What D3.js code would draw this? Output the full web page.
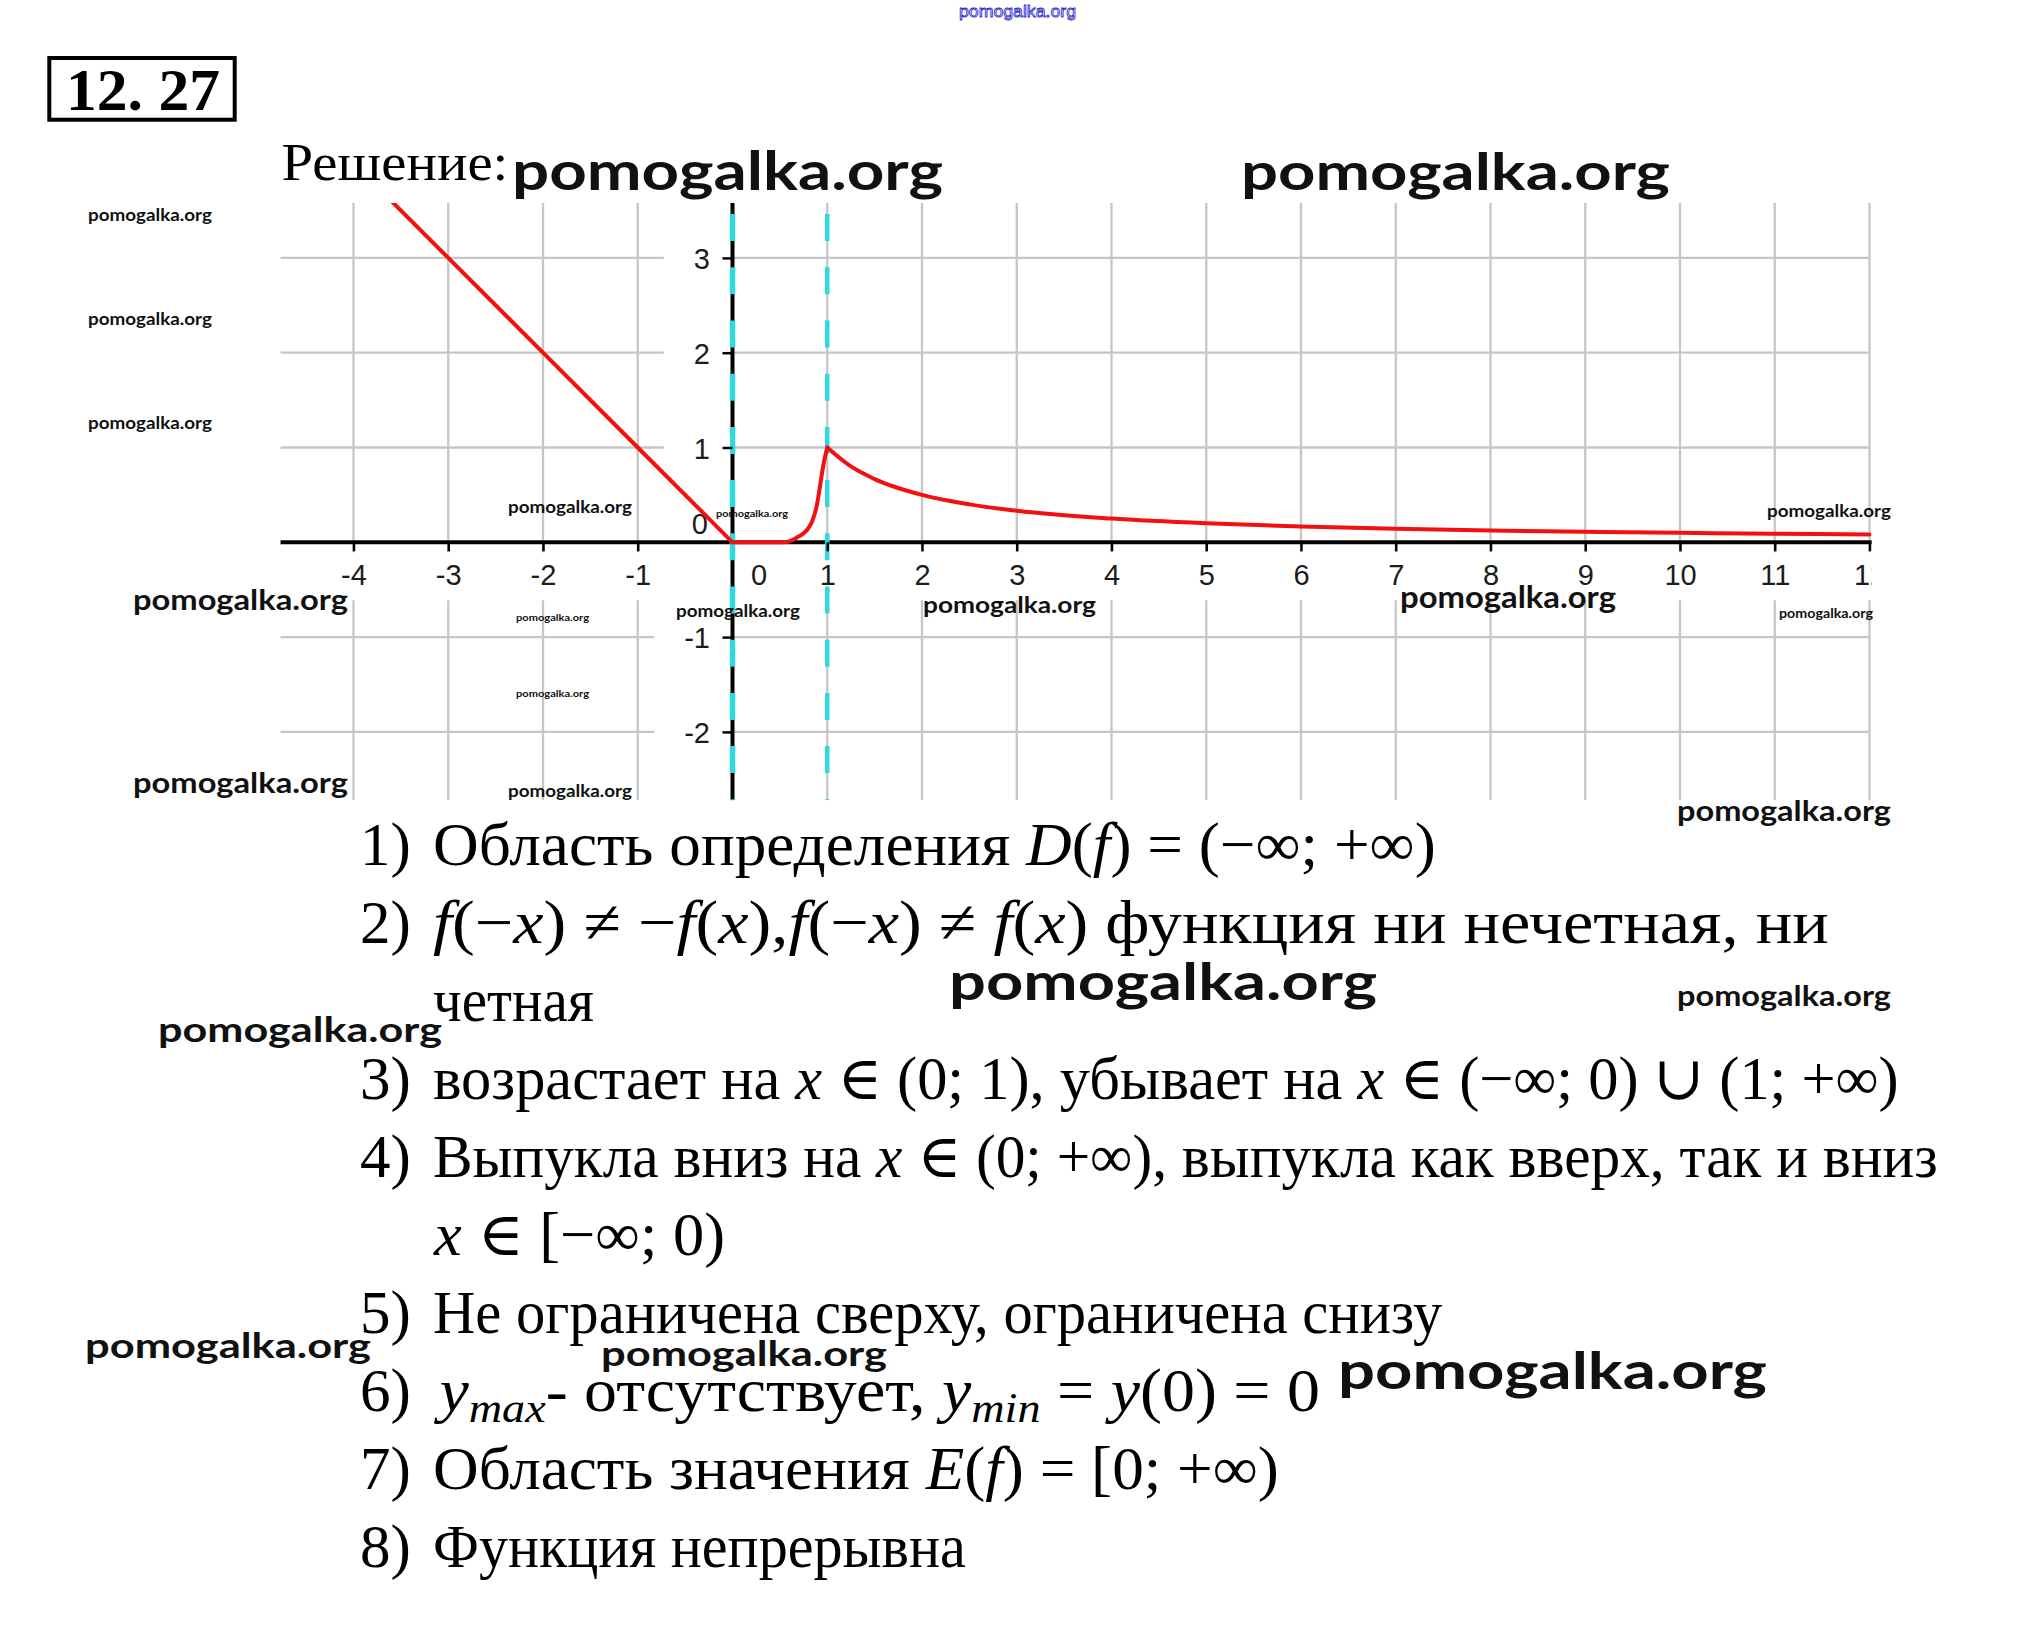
<!DOCTYPE html>
<html><head><meta charset="utf-8">
<script src="https://cdn.jsdelivr.net/npm/d3@7"></script>
<style>html,body{margin:0;padding:0;background:#fff;} svg{display:block;}</style>
</head><body>
<svg id="c" width="2033" height="1642"></svg>
<script>
// ---------- data ----------
const xTickValues = [-4,-3,-2,-1,0,1,2,3,4,5,6,7,8,9,10,11,12];
const yTickValues = [-2,-1,0,1,2,3];
// branch x<=0 : line
const leftX = [-3.6,-3,-2,-1,0];
const leftY = [3.6,3,2,1,0];
// branch 0..1 : steep rise
const midX = [0,0.1,0.2,0.3,0.4,0.5,0.57,0.68,0.75,0.79,0.84,0.89,0.92,0.96,1.0];
const midY = [0,0,0,0,0,0.001,0.004,0.05,0.095,0.135,0.22,0.39,0.57,0.82,1.0];
// branch x>=1 : decreasing tail
const rightX = [1,1.25,1.5,2,2.5,3,4,5,6,7,8,9,10,11,12];
const rightY = [1,0.8,0.667,0.5,0.4,0.333,0.25,0.2,0.167,0.143,0.125,0.111,0.1,0.091,0.083];
// dashed cyan verticals
const dashedX = [0,1];

const titleNumber = "12. 27";
const titleWord = "Решение:";
const listNumbers = ["1)","2)","","3)","4)","","5)","6)","7)","8)"];
const listLines = [
 [["Область определения ","n"],["D","i"],["(","n"],["f","i"],[") = (−∞; +∞)","n"]],
 [["f","i"],["(−","n"],["x","i"],[") ≠ −","n"],["f","i"],["(","n"],["x","i"],["),","n"],["f","i"],["(−","n"],["x","i"],[") ≠ ","n"],["f","i"],["(","n"],["x","i"],[") функция ни нечетная, ни","n"]],
 [["четная","n"]],
 [["возрастает на ","n"],["x","i"],[" ∈ (0; 1), убывает на ","n"],["x","i"],[" ∈ (−∞; 0) ∪ (1; +∞)","n"]],
 [["Выпукла вниз на ","n"],["x","i"],[" ∈ (0; +∞), выпукла как вверх, так и вниз","n"]],
 [["x","i"],[" ∈ [−∞; 0)","n"]],
 [["Не ограничена сверху, ограничена снизу","n"]],
 [["y","i"],["max","s"],["- отсутствует, ","n"],["y","i"],["min","s"],[" = ","n"],["y","i"],["(0) = 0","n"]],
 [["Область значения ","n"],["E","i"],["(","n"],["f","i"],[") = [0; +∞)","n"]],
 [["Функция непрерывна","n"]]
];
const watermarkText = "pomogalka.org";

// ---------- layout ----------
const W = 2033, H = 1642;
const X0 = 732.5, UX = 94.75, Y0 = 542.3, UY = 94.8;
const xMin = -4.77, xMax = 12, yMin = -2.72, yMax = 3.58;
const listRight = [1436,1829,594,1899,1938,725,1443,1320,1279,966];
const listBase0 = 865, listStep = 78, listX = 433, numX = 360, listFS = 61;
// watermark layout: [left, width, centerY]
const wmLayout = [
 [512,431,176],[1241,429,176],
 [88,124,216],[88,124,320],[88,124,424],
 [508,124,508],[716,72,514],[133,215,602],[516,73,618],[676,124,612],
 [923,173,607],[1400,216,600],[1767,124,512],[1779,94,615],[516,73,694],
 [133,215,785],[508,124,792],[1677,214,813],[949,428,986],[1677,214,998],
 [158,284,1033],[85,286,1349],[601,286,1357],[1338,429,1375]
];

const svg = d3.select('#c');
svg.append('rect').attr('width',W).attr('height',H).attr('fill','#fff');

const x = d3.scaleLinear().domain([0,12]).range([X0, X0+12*UX]);
const y = d3.scaleLinear().domain([0,3]).range([Y0, Y0-3*UY]);
const pl = x(xMin), pr = x(xMax), pt = y(yMax), pb = y(yMin);
const clipR = pr + 2.3;

const defs = svg.append('defs');
defs.append('clipPath').attr('id','plotclip').append('rect')
  .attr('x',pl-3).attr('y',pt).attr('width',clipR-pl+3).attr('height',pb-pt);

const plot = svg.append('g').attr('clip-path','url(#plotclip)');

// grid
const gridColor = '#c6c6c6';
plot.append('g').selectAll('line.v').data(xTickValues.filter(v=>v!==0)).join('line')
  .attr('x1',d=>x(d)).attr('x2',d=>x(d)).attr('y1',pt).attr('y2',pb)
  .attr('stroke',gridColor).attr('stroke-width',2.3);
plot.append('g').selectAll('line.h').data(yTickValues.filter(v=>v!==0)).join('line')
  .attr('x1',pl).attr('x2',pr).attr('y1',d=>y(d)).attr('y2',d=>y(d))
  .attr('stroke',gridColor).attr('stroke-width',2.3);

// label backgrounds (cut the grid)
const labelFont = "'Liberation Sans', Arial, sans-serif";
const labelFS = 29;
const bgG = plot.append('g');
xTickValues.filter(v=>v!==0).forEach(v=>{
  bgG.append('rect').attr('x',x(v)-15).attr('y',Y0+10).attr('width',30).attr('height',48).attr('fill','#fff');
});

// axis lines
plot.append('line').attr('x1',pl).attr('x2',clipR).attr('y1',Y0).attr('y2',Y0)
  .attr('stroke','#000').attr('stroke-width',4);
plot.append('line').attr('x1',X0).attr('x2',X0).attr('y1',pt).attr('y2',pb)
  .attr('stroke','#000').attr('stroke-width',4);

// cyan dashed lines
plot.append('g').selectAll('line').data(dashedX).join('line')
  .attr('x1',d=>x(d)).attr('x2',d=>x(d)).attr('y1',pt).attr('y2',pb)
  .attr('stroke','#2fd8e3').attr('stroke-width',(d)=>d===0?5.5:4.5)
  .attr('stroke-dasharray','27 26.2').attr('stroke-dashoffset',42);

// x axis via d3
const xAxisG = plot.append('g').attr('transform',`translate(0,${Y0})`)
  .call(d3.axisBottom(x).tickValues(xTickValues).tickSize(9).tickFormat(d=>String(d)));
xAxisG.select('.domain').remove();
xAxisG.attr('font-family',labelFont).attr('font-size',labelFS);
xAxisG.selectAll('.tick line').attr('stroke','#000').attr('stroke-width',2.5)
  .attr('display',d=>d===0?'none':null);
xAxisG.selectAll('.tick text').attr('fill','#1c1c1c').attr('y',43).attr('dy',null)
  .attr('x',d=>d===0?26:0).attr('display',d=>d===0?null:null);
// hide "0" from x-axis (it is drawn as y label "0" separately) -> reference shows "0" right of axis on x-row too
// y label backgrounds need text width -> draw axis first, measure
const yAxisG = plot.append('g').attr('transform',`translate(${X0},0)`)
  .call(d3.axisLeft(y).tickValues(yTickValues).tickSize(10).tickFormat(d=>String(d)));
yAxisG.select('.domain').remove();
yAxisG.attr('font-family',labelFont).attr('font-size',labelFS);
yAxisG.selectAll('.tick line').attr('stroke','#000').attr('stroke-width',2.5)
  .attr('display',d=>d===0?'none':null);
yAxisG.selectAll('.tick text').attr('fill','#1c1c1c').attr('dy',null)
  .attr('x',d=>d===0?-24.5:-22.5).attr('y',d=>d===0?-9.3:10.5);
// white boxes behind y labels
yAxisG.selectAll('.tick').each(function(d){
  if(d===0) return;
  const t = d3.select(this).select('text');
  const w = t.node().getComputedTextLength();
  d3.select(this).insert('rect',':first-child')
    .attr('x',-22.5-w-30).attr('y',-13).attr('width',w+30+20).attr('height',26).attr('fill','#fff');
});
// keep cyan dash above y-axis box area: re-raise dashed lines
plot.selectAll('line').filter(function(){return d3.select(this).attr('stroke-dasharray');}).raise();

// curve
const line = d3.line().x(d=>x(d[0])).y(d=>y(d[1]));
const curveG = plot.append('g').attr('fill','none').attr('stroke','#f21010').attr('stroke-width',4)
  .attr('stroke-linejoin','round').attr('stroke-linecap','round');
curveG.append('path').attr('d', line.curve(d3.curveLinear)(leftX.map((v,i)=>[v,leftY[i]])));
curveG.append('path').attr('d', line.curve(d3.curveMonotoneX)(midX.map((v,i)=>[v,midY[i]])));
curveG.append('path').attr('d', line.curve(d3.curveMonotoneX)(rightX.map((v,i)=>[v,rightY[i]])));

// ---------- texts ----------
function fit(sel, x0, base, right){
  const bb = sel.node().getBBox();
  const s = (right - x0) / bb.width;
  sel.attr('transform',`translate(${x0 - bb.x*s},${base}) scale(${s},1)`);
}
// title box
svg.append('rect').attr('x',49.3).attr('y',58).attr('width',185.4).attr('height',61.7)
  .attr('fill','none').attr('stroke','#000').attr('stroke-width',4);
const tn = svg.append('text').attr('font-family',"'Liberation Serif','Times New Roman',serif")
  .attr('font-weight','bold').attr('font-size',60).attr('fill','#000').style('white-space','pre').text(titleNumber);
fit(tn, 66, 110, 220);
const tw = svg.append('text').attr('font-family',"'Liberation Serif','Times New Roman',serif")
  .attr('font-size',53).attr('fill','#000').text(titleWord);
fit(tw, 281.5, 180, 508.5);

// list
const serif = "'Liberation Serif','Times New Roman','DejaVu Serif',serif";
listLines.forEach((segs,i)=>{
  const base = listBase0 + i*listStep;
  if(listNumbers[i]){
    svg.append('text').attr('x',numX).attr('y',base).attr('font-family',serif)
      .attr('font-size',listFS).attr('fill','#000').text(listNumbers[i]);
  }
  const t = svg.append('text').attr('font-family',serif).attr('font-size',listFS)
    .attr('fill','#000').style('white-space','pre');
  let sub = false;
  segs.forEach(([s,k])=>{
    const ts = t.append('tspan').text(s);
    if(k==='i'||k==='s') ts.attr('font-style','italic');
    if(k==='s'){ ts.attr('font-size',listFS*0.7); if(!sub){ts.attr('dy',11); sub=true;} }
    else if(sub){ ts.attr('dy',-11); sub=false; }
  });
  fit(t, listX, base, listRight[i]);
});

// watermarks
const wmFont = "Lato, 'Open Sans', sans-serif";
wmLayout.forEach(([lx,w,cy])=>{
  const fs = w / (w > 250 ? 8.2 : 7.3);
  svg.append('text').attr('x',lx).attr('y',cy + 0.27*fs)
    .attr('font-family',wmFont).attr('font-weight','bold').attr('font-size',fs)
    .attr('fill','#111').attr('textLength',w).attr('lengthAdjust','spacingAndGlyphs')
    .text(watermarkText);
});
// top blue outline watermark
svg.append('text').attr('x',959).attr('y',17).attr('font-family',"'Liberation Sans',Arial,sans-serif")
  .attr('font-size',16).attr('fill','#fff').attr('stroke','#2a2ad0').attr('stroke-width',0.8)
  .attr('textLength',117).attr('lengthAdjust','spacingAndGlyphs').text(watermarkText);
</script>
</body></html>
